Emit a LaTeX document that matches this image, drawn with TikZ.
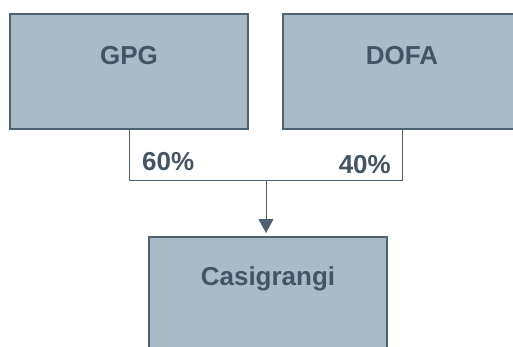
\documentclass[tikz,border=0pt]{standalone}
\usepackage{fontspec}
\setmainfont{Liberation Sans}
\usetikzlibrary{arrows.meta}
\definecolor{boxfill}{RGB}{170,187,200}
\definecolor{boxline}{RGB}{80,98,114}
\definecolor{txt}{RGB}{68,84,99}
\begin{document}
\begin{tikzpicture}[x=1pt,y=-1pt,
  entity/.style={draw=boxline, fill=boxfill, line width=2pt, minimum width=238pt, minimum height=115pt, inner sep=0pt},
  lbl/.style={text=txt, font=\fontsize{26}{30}\selectfont\bfseries, inner sep=0pt},
  pct/.style={text=txt, font=\fontsize{26}{30}\selectfont\bfseries, inner sep=0pt},
  conn/.style={draw=boxline, line width=1pt}]
\useasboundingbox (0,0) rectangle (513,347);
\clip (0,0) rectangle (513,347);
\node[entity] (gpg) at (129,71.5) {};
\node[entity] (dofa) at (402,71.5) {};
\node[entity] (casi) at (268,294.5) {};
\node[lbl] (gpgt) at ([yshift=-43pt]gpg.north) {GPG};
\node[lbl] (dofat) at ([yshift=-43pt]dofa.north) {DOFA};
\node[lbl] (casit) at ([yshift=-43pt]casi.north) {Casigrangi};
\coordinate (j) at (266,181);
\draw[conn] (gpg.south) |- (j);
\draw[conn] (dofa.south) |- (j);
\draw[conn, -{Triangle[width=15pt,length=14pt]}, shorten >=3pt] (j) -- (j |- casi.north);
\node[pct, anchor=west] (p60) at (142,162) {60\%};
\node[pct, anchor=east] (p40) at (391,165) {40\%};
\end{tikzpicture}
\end{document}
